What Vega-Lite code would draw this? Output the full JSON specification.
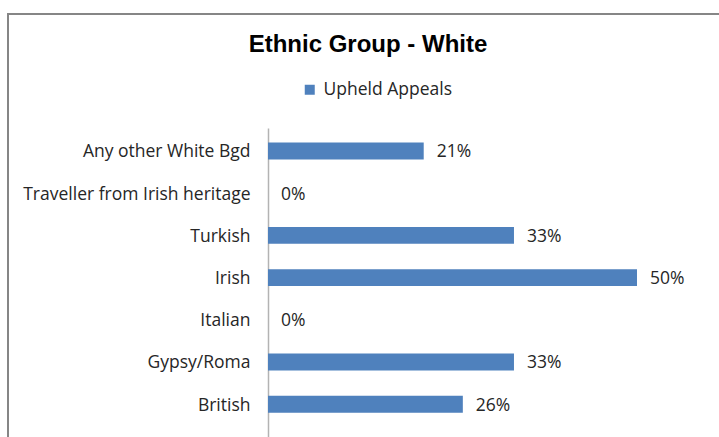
{
  "$schema": "https://vega.github.io/schema/vega-lite/v6.json",
  "autosize": "none",
  "width": 720,
  "height": 430,
  "padding": {"left": 8, "top": 14, "right": -9, "bottom": -7},
  "background": "white",
  "config": {
    "view": {"stroke": "#868686", "strokeWidth": 2},
    "font": "Open Sans"
  },
  "title": {
    "text": "Ethnic Group - White",
    "font": "Liberation Sans",
    "fontSize": 24,
    "fontWeight": "bold",
    "color": "#000000",
    "anchor": "middle",
    "frame": "group",
    "baseline": "alphabetic",
    "offset": -62
  },
  "data": {
    "values": [
      {"group": "Any other White Bgd", "rate": 0.211, "series": "Upheld Appeals"},
      {"group": "Traveller from Irish heritage", "rate": 0, "series": "Upheld Appeals"},
      {"group": "Turkish", "rate": 0.3333, "series": "Upheld Appeals"},
      {"group": "Irish", "rate": 0.5, "series": "Upheld Appeals"},
      {"group": "Italian", "rate": 0, "series": "Upheld Appeals"},
      {"group": "Gypsy/Roma", "rate": 0.3333, "series": "Upheld Appeals"},
      {"group": "British", "rate": 0.264, "series": "Upheld Appeals"}
    ]
  },
  "encoding": {
    "y": {
      "field": "group",
      "type": "nominal",
      "sort": null,
      "scale": {"range": [114, 430], "paddingInner": 0.6, "paddingOuter": 0.544, "align": 0.317},
      "axis": {
        "title": null,
        "offset": -260,
        "domainColor": "#b3b3b3",
        "domainWidth": 1.5,
        "ticks": false,
        "tickSize": 0,
        "labelPadding": 18,
        "labelOffset": 1.5,
        "labelLimit": 400,
        "labelFont": "Open Sans",
        "labelFontSize": 17.5,
        "labelColor": "#262626",
        "grid": false
      }
    },
    "x": {
      "field": "rate",
      "type": "quantitative",
      "scale": {"domain": [0, 1], "range": [260, 998], "nice": false, "zero": true},
      "axis": null
    }
  },
  "layer": [
    {
      "mark": {"type": "bar"},
      "encoding": {
        "color": {
          "field": "series",
          "type": "nominal",
          "scale": {"range": ["#4F81BD"]},
          "legend": {
            "title": null,
            "orient": "none",
            "legendX": 293,
            "legendY": 67,
            "symbolType": "square",
            "symbolSize": 100,
            "symbolStrokeWidth": 0,
            "labelFont": "Open Sans",
            "labelFontSize": 17.5,
            "labelColor": "#262626",
            "labelOffset": 5
          }
        }
      }
    },
    {
      "mark": {"type": "text", "align": "left", "baseline": "middle", "dx": 13, "dy": 1.5, "font": "Open Sans", "fontSize": 17.5, "color": "#262626"},
      "encoding": {
        "text": {"field": "rate", "type": "quantitative", "format": ".0%"}
      }
    }
  ]
}
